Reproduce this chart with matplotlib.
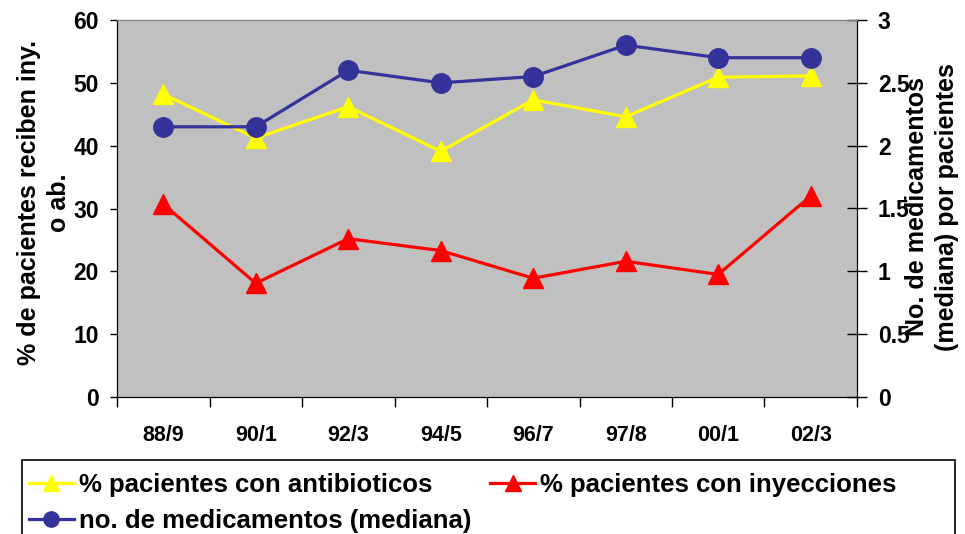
import matplotlib.pyplot as plt
from matplotlib.lines import Line2D
from matplotlib.patches import Rectangle

plt.rcParams['font.family'] = ['Liberation Sans', 'DejaVu Sans']
plt.rcParams['font.weight'] = 'bold'

# Data
periodos = ['88/9', '90/1', '92/3', '94/5', '96/7', '97/8', '00/1', '02/3']
antibioticos = [48.2, 41.2, 46.2, 39.1, 47.3, 44.6, 50.9, 51.1]
inyecciones = [30.7, 18.1, 25.2, 23.3, 18.9, 21.6, 19.5, 32.0]
medicamentos = [2.15, 2.15, 2.6, 2.5, 2.55, 2.8, 2.7, 2.7]

fig = plt.figure(figsize=(9.65, 5.34), dpi=100)
ax = fig.add_axes([117 / 965, 137 / 534, 740 / 965, 377 / 534])
ax.set_facecolor('#C0C0C0')
ax2 = ax.twinx()

x = list(range(len(periodos)))
ax.plot(x, antibioticos, color='#FFFF00', lw=2.3, marker='^', ms=14, zorder=3)
ax.plot(x, inyecciones, color='#FF0000', lw=2.3, marker='^', ms=14, zorder=3)
ax2.plot(x, medicamentos, color='#333399', lw=2.3, marker='o', ms=14, zorder=3)

ax.set_xlim(-0.5, 7.5)
ax.set_ylim(0, 60)
ax2.set_ylim(0, 3)
ax.set_yticks(range(0, 61, 10))
ax2.set_yticks([0, 0.5, 1, 1.5, 2, 2.5, 3])
ax2.set_yticklabels(['0', '0.5', '1', '1.5', '2', '2.5', '3'])

# category boundaries as ticks, labels at centers
ax.set_xticks([i - 0.5 for i in range(len(periodos) + 1)])
ax.set_xticklabels([])
ax.set_xticks(x, minor=True)
ax.set_xticklabels(periodos, minor=True, fontsize=15.5, fontweight='bold')
ax.tick_params(axis='x', which='minor', length=0, pad=20)
ax.tick_params(axis='x', which='major', length=7, width=1)
ax.tick_params(axis='y', length=5, width=1, labelsize=16.5, pad=8)
ax2.tick_params(axis='y', direction='inout', length=14, width=1, labelsize=16.5, pad=8)

for a in (ax, ax2):
    a.spines['top'].set_color('#808080')
    a.spines['left'].set_color('black')
    a.spines['right'].set_color('black')
    a.spines['bottom'].set_color('black')

# axis titles
fig.text(44 / 965, 1 - 203 / 534, '% de pacientes reciben iny.\no ab.',
         rotation=90, ha='center', va='center', multialignment='center',
         fontsize=18, fontweight='bold', linespacing=1.35)
fig.text(932 / 965, 1 - 207 / 534, 'No. de medicamentos\n(mediana) por pacientes',
         rotation=90, ha='center', va='center', multialignment='center',
         fontsize=18, fontweight='bold', linespacing=1.3)

# legend box
fig.patches.append(Rectangle((22 / 965, -0.05), 933 / 965, 74 / 534 + 0.05,
                             transform=fig.transFigure, facecolor='white',
                             edgecolor='black', lw=1.2, zorder=1))
handles = [
    Line2D([], [], color='#FFFF00', lw=2.3, marker='^', ms=11),
    Line2D([], [], color='#333399', lw=2.3, marker='o', ms=11),
    Line2D([], [], color='#FF0000', lw=2.3, marker='^', ms=11),
]
labels = ['% pacientes con antibioticos', 'no. de medicamentos (mediana)',
          '% pacientes con inyecciones']
leg = fig.legend(handles, labels, loc='upper left', ncol=2,
                 bbox_to_anchor=(26 / 965, 1 - 470 / 534),
                 fontsize=18.5, frameon=False, handlelength=1.75, handletextpad=0.2,
                 labelspacing=0.5, borderpad=0.1, borderaxespad=0,
                 columnspacing=0.75)
leg.set_zorder(2)

fig.savefig('out.png', dpi=100)
